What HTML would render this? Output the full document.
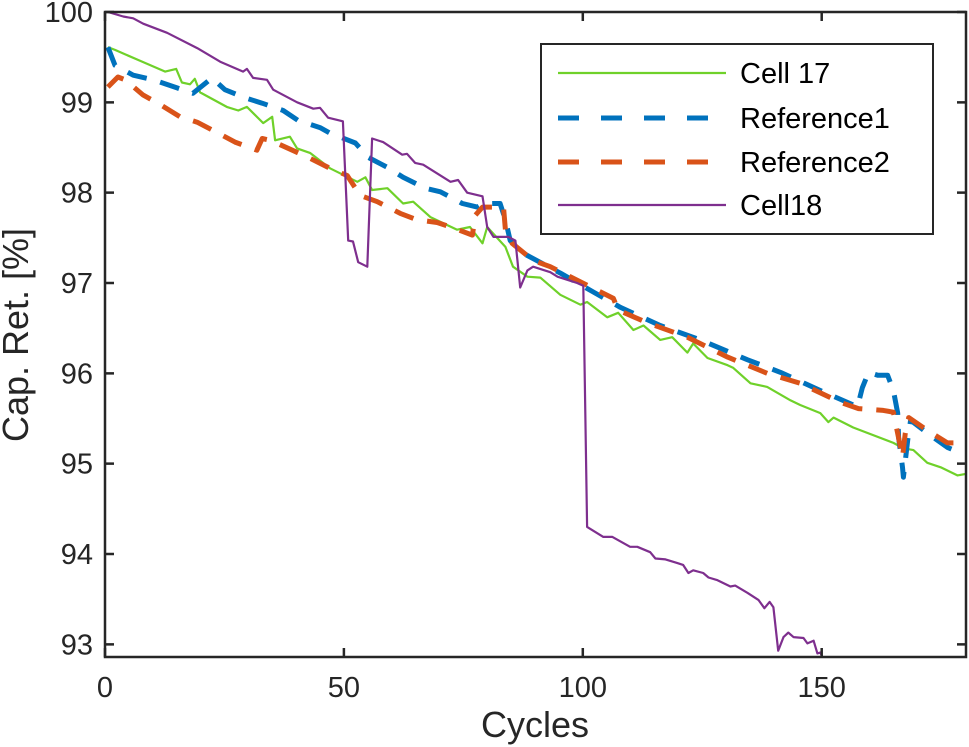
<!DOCTYPE html>
<html><head><meta charset="utf-8"><style>
html,body{margin:0;padding:0;background:#fff;}
svg{display:block;font-family:"Liberation Sans",Arial,sans-serif;}
</style></head><body>
<svg id="chart" width="969" height="747" viewBox="0 0 969 747" xmlns="http://www.w3.org/2000/svg">
<defs><clipPath id="plotclip"><rect x="105" y="12" width="861" height="645"/></clipPath></defs>
<g id="series" clip-path="url(#plotclip)"></g>
<g id="axes"></g>
<g id="legend"></g>
</svg>
<script>
const xTicks = [0, 50, 100, 150];
const yTicks = [93, 94, 95, 96, 97, 98, 99, 100];

const cell17Cycles = [0.6,2.1,6.9,12.6,14.9,16.1,17.8,18.8,19.9,25.5,27.9,29.7,33.1,35.0,35.6,38.7,40.2,42.9,47.1,52.8,54.5,55.9,59.1,62.4,64.5,68.1,73.7,76.4,79.0,80.0,83.8,85.4,88.4,91.1,95.3,99.5,100.9,105.1,107.4,110.6,112.7,116.2,118.7,121.9,123.1,126.1,130.3,131.5,135.1,138.6,143.5,145.5,149.7,151.4,152.5,156.6,165.0,167.1,169.2,172.1,174.9,178.4,180.5];
const cell17Values = [99.61,99.58,99.47,99.34,99.37,99.22,99.20,99.26,99.11,98.95,98.91,98.95,98.77,98.84,98.58,98.62,98.49,98.44,98.27,98.12,98.17,98.03,98.05,97.88,97.90,97.73,97.59,97.62,97.44,97.62,97.40,97.18,97.07,97.06,96.87,96.76,96.79,96.62,96.67,96.48,96.53,96.37,96.40,96.23,96.33,96.17,96.09,96.06,95.89,95.85,95.70,95.65,95.56,95.46,95.51,95.40,95.23,95.17,95.15,95.01,94.96,94.87,94.89];

const ref1Cycles = [0.6,2.1,5.9,10.1,15.1,18.4,22.4,25.1,29.3,32.9,37.3,40.4,45.0,47.1,52.4,55.1,59.1,62.4,67.0,70.2,74.8,77.9,79.2,82.7,83.8,84.8,87.5,95.3,102.2,107.9,116.2,124.6,134.5,141.4,149.7,157.5,158.5,159.8,161.7,163.8,165.0,165.9,166.1,166.9,167.1,168.0,168.6,172.1,176.3,179.1];
const ref1Values = [99.61,99.41,99.30,99.25,99.16,99.10,99.27,99.14,99.05,98.99,98.91,98.80,98.72,98.66,98.55,98.39,98.28,98.17,98.05,98.01,97.88,97.84,97.88,97.88,97.70,97.47,97.33,97.11,96.90,96.73,96.53,96.37,96.15,96.01,95.81,95.63,95.84,96.01,95.98,95.98,95.81,95.56,95.29,94.96,94.85,95.26,95.48,95.34,95.18,95.12];

const ref2Cycles = [0.6,2.7,4.2,8.0,11.1,15.7,19.3,23.7,27.2,31.8,32.9,34.6,39.2,42.9,47.1,50.7,53.4,57.0,61.8,65.3,69.5,72.9,76.9,77.5,79.0,83.4,83.8,85.2,89.6,93.2,106.4,107.4,113.5,121.9,130.3,138.6,145.5,153.9,157.7,162.9,165.0,166.5,166.9,167.5,168.2,172.1,176.3,180.5];
const ref2Values = [99.17,99.28,99.25,99.08,98.99,98.84,98.78,98.66,98.56,98.47,98.60,98.58,98.47,98.38,98.27,98.19,97.97,97.90,97.77,97.70,97.67,97.61,97.53,97.75,97.84,97.84,97.59,97.44,97.25,97.18,96.83,96.70,96.56,96.40,96.18,96.00,95.89,95.68,95.61,95.59,95.57,95.18,95.07,95.34,95.51,95.37,95.23,95.23];

const cell18Cycles = [0.6,3.8,5.9,8.0,13.0,19.3,24.1,28.9,29.7,31.0,33.9,35.2,40.2,43.6,45.0,46.7,49.8,50.9,51.9,53.0,54.9,55.9,58.2,62.2,63.2,64.9,66.6,72.3,73.9,75.8,79.0,80.0,81.3,84.4,85.9,86.9,88.4,89.6,93.2,94.7,98.8,100.1,100.9,104.3,106.2,109.9,111.4,114.1,115.2,117.3,119.8,121.0,122.1,123.1,125.2,126.3,128.2,130.9,131.9,134.5,136.8,138.0,139.1,139.9,140.9,142.0,143.0,144.1,146.2,147.0,148.3,149.1,149.7,150.2];
const cell18Values = [100.0,99.95,99.93,99.87,99.77,99.60,99.45,99.34,99.37,99.27,99.25,99.14,99.00,98.93,98.94,98.83,98.79,97.47,97.46,97.23,97.18,98.60,98.56,98.42,98.43,98.33,98.31,98.12,98.14,98.00,97.96,97.62,97.51,97.51,97.47,96.95,97.14,97.18,97.12,97.07,97.00,96.97,94.30,94.19,94.19,94.08,94.08,94.02,93.95,93.94,93.90,93.88,93.79,93.82,93.79,93.74,93.71,93.64,93.65,93.57,93.49,93.40,93.47,93.41,92.93,93.08,93.13,93.08,93.07,93.01,93.04,92.90,92.91,92.85];

const seriesNames = ["Cell 17", "Reference1", "Reference2", "Cell18"];

const NS = "http://www.w3.org/2000/svg";
const L = 105, R = 966, T = 12, B = 657;
const xMin = 0, xMax = 180.2, yMin = 92.86, yMax = 100;
function xs(c){ return L + (c - xMin) / (xMax - xMin) * (R - L); }
function ys(v){ return T + (yMax - v) / (yMax - yMin) * (B - T); }
function mk(tag, attrs, parent){
  const e = document.createElementNS(NS, tag);
  for (const k in attrs) e.setAttribute(k, attrs[k]);
  parent.appendChild(e);
  return e;
}
const seriesG = document.getElementById('series');
const axesG = document.getElementById('axes');
const legG = document.getElementById('legend');

const styles = [
  {c:"#6fd12a", w:2.2, d:null, xs:cell17Cycles, vs:cell17Values, n:"cell17-line"},
  {c:"#0072bd", w:5, d:"20 14", xs:ref1Cycles, vs:ref1Values, n:"reference1-line"},
  {c:"#d95319", w:5, d:"20 14", xs:ref2Cycles, vs:ref2Values, n:"reference2-line"},
  {c:"#7e2f8e", w:2.2, d:null, xs:cell18Cycles, vs:cell18Values, n:"cell18-line"}
];
styles.forEach(s => {
  const n = Math.min(s.xs.length, s.vs.length);
  let pts = [];
  for (let i = 0; i < n; i++) pts.push(xs(s.xs[i]).toFixed(1) + "," + ys(s.vs[i]).toFixed(1));
  const p = mk('polyline', {points: pts.join(" "), fill:"none", stroke:s.c, "stroke-width":s.w, "stroke-linejoin":"round"}, seriesG);
  if (s.d) p.setAttribute('stroke-dasharray', s.d);
  
  
});

const box = mk('rect', {x:L, y:T, width:R-L, height:B-T, fill:"none", stroke:"#262626", "stroke-width":2.5}, axesG);


xTicks.forEach(t => {
  const x = xs(t);
  const tk = mk('path', {d:`M${x},${B}V${B-9}M${x},${T}V${T+9}`, stroke:"#262626", "stroke-width":2.5}, axesG);
  
  
  const tx = mk('text', {x:x, y:B+40, "text-anchor":"middle", "font-size":29, fill:"#262626"}, axesG);
  tx.textContent = t;
  
  
});
yTicks.forEach(t => {
  const y = ys(t);
  const tk = mk('path', {d:`M${L},${y}H${L+9}M${R},${y}H${R-9}`, stroke:"#262626", "stroke-width":2.5}, axesG);
  
  
  const tx = mk('text', {x:L-12, y:y+10, "text-anchor":"end", "font-size":29, fill:"#262626"}, axesG);
  tx.textContent = t;
  
  
});
const xt = mk('text', {x:535, y:737, "text-anchor":"middle", "font-size":36, fill:"#262626"}, axesG);
xt.textContent = "Cycles";


const yt = mk('text', {x:0, y:0, "text-anchor":"middle", "font-size":36, fill:"#262626", transform:"translate(28,335) rotate(-90)"}, axesG);
yt.textContent = "Cap. Ret. [%]";



const lb = mk('rect', {x:541, y:44, width:392, height:190, fill:"#fff", stroke:"#262626", "stroke-width":2}, legG);


const rowY = [73, 118, 162, 205];
styles.forEach((s, i) => {
  const ln = mk('line', {x1:558, x2:726, y1:rowY[i], y2:rowY[i], stroke:s.c, "stroke-width": s.w === 5 ? 5 : 2.2}, legG);
  if (s.d) ln.setAttribute('stroke-dasharray', '21 22');
  
  
  const tx = mk('text', {x:740, y:rowY[i]+10, "font-size":29, fill:"#000"}, legG);
  tx.textContent = seriesNames[i];
  
  
});
</script>
</body></html>
